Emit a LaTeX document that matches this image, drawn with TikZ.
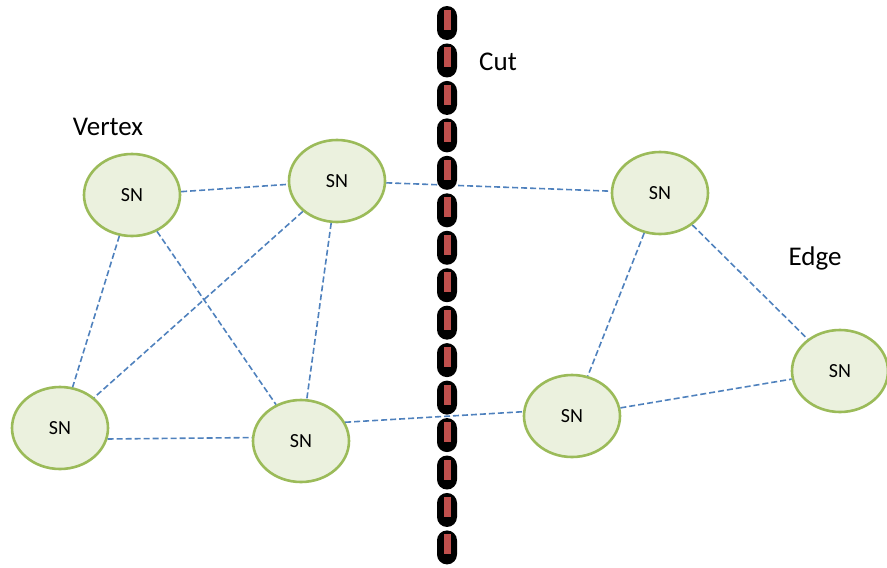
\documentclass[tikz,border=0pt]{standalone}
\usepackage{fontspec}
\setmainfont{Carlito}
\usetikzlibrary{shapes.geometric}
\definecolor{snfill}{HTML}{EBF1DE}
\definecolor{snline}{HTML}{9BBB59}
\definecolor{linkblue}{HTML}{4F81BD}
\definecolor{cutred}{HTML}{C0504D}
\tikzset{
  sn/.style={ellipse, draw=snline, fill=snfill, line width=2.6pt,
    minimum width=96pt, minimum height=82pt, inner sep=0pt,
    font=\fontsize{20}{22}\selectfont},
  link/.style={draw=linkblue, line width=1.6pt, dash pattern=on 6pt off 3pt},
  caption/.style={font=\fontsize{27}{30}\selectfont, inner sep=0pt},
  capsule/.style={fill=black, rounded corners=10pt},
  capcore/.style={fill=cutred}
}
\begin{document}
\begin{tikzpicture}[x=1pt,y=-1pt]
\useasboundingbox (0,0) rectangle (887,568);

% vertices
\node[sn] (A) at (132,195) {SN};
\node[sn] (B) at (337,181) {SN};
\node[sn] (C) at (660,193) {SN};
\node[sn] (D) at (60,428) {SN};
\node[sn] (E) at (301,441) {SN};
\node[sn] (F) at (572,416) {SN};
\node[sn] (G) at (840,371) {SN};

% edges
\path[link] (A) -- (B);
\path[link] (B) -- (C);
\path[link] (A) -- (D);
\path[link] (A) -- (E);
\path[link] (B) -- (D);
\path[link] (B) -- (E);
\path[link] (D.-13) -- (E.176);
\path[link] (E.23) -- (F.175);
\path[link] (C) -- (F);
\path[link] (C) -- (G);
\path[link] (F) -- (G);

% the cut
\foreach \i in {0,...,14} {
  \pgfmathsetmacro{\cy}{23+37.46*\i}
  \fill[capsule] (437,\cy-17) rectangle (457,\cy+17);
  \fill[capcore] (443.5,\cy-13) rectangle (450.5,\cy+7);
}

% labels
\node[caption] (vertexlabel) at (108,127) {Vertex};
\node[caption] (cutlabel) at (498,62) {Cut};
\node[caption] (edgelabel) at (815,258) {Edge};
\end{tikzpicture}
\end{document}
